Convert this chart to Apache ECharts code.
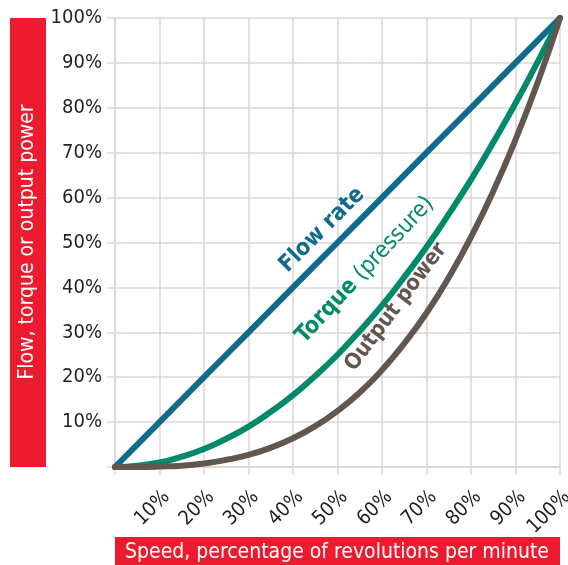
<!DOCTYPE html>
<html>
<head>
<meta charset="utf-8">
<script src="https://cdn.jsdelivr.net/npm/echarts@6/dist/echarts.min.js"></script>
<style>
  html, body { margin: 0; padding: 0; background: #fff; }
  #chart { width: 568px; height: 565px; }
</style>
</head>
<body>
<div id="chart"></div>
<script>
// 转速百分比 (x)，每 5% 读一个点
const speed = [0, 5, 10, 15, 20, 25, 30, 35, 40, 45, 50, 55, 60, 65, 70, 75, 80, 85, 90, 95, 100]
// 三条曲线的读数
const flowRate = [0, 5, 10, 15, 20, 25, 30, 35, 40, 45, 50, 55, 60, 65, 70, 75, 80, 85, 90, 95, 100]
const torque = [0, 0.3, 1, 2.3, 4, 6.3, 9, 12.3, 16, 20.3, 25, 30.3, 36, 42.3, 49, 56.3, 64, 72.3, 81, 90.3, 100]
const outputPower = [0, 0.01, 0.1, 0.3, 0.8, 1.6, 2.7, 4.3, 6.4, 9.1, 12.5, 16.6, 21.6, 27.5, 34.3, 42.2, 51.2, 61.4, 72.9, 85.7, 100]

const FONT = "'Liberation Sans Narrow', 'DejaVu Sans Condensed', 'Roboto', sans-serif"
const RED = '#ed1b2f'
const GRID_COLOR = '#dcd6d2'

const pairs = (ys) => speed.map((x, i) => [x, ys[i]])
const pctLabel = (v) => (v === 0 ? '' : v + '%')

const lineSeries = (name, ys, color, smooth) => ({
  name,
  type: 'line',
  data: pairs(ys),
  smooth,
  symbol: 'none',
  lineStyle: { color, width: 6, cap: 'round', join: 'round' },
  z: 3
})

const options = {
  backgroundColor: '#fff',
  animation: false,
  grid: {
    left: 115,
    right: 8,
    top: 18,
    bottom: 98,
    containLabel: false,
    outerBoundsMode: 'none'
  },
  xAxis: {
    type: 'value',
    min: 0,
    max: 100,
    interval: 10,
    axisLine: { show: true, lineStyle: { color: GRID_COLOR, width: 1.5 } },
    axisTick: { show: true, length: 8, lineStyle: { color: GRID_COLOR, width: 1.5 } },
    splitLine: { show: true, lineStyle: { color: GRID_COLOR, width: 1.5 } },
    axisLabel: {
      rotate: 45,
      margin: 20,
      verticalAlign: 'top',
      color: '#231f20',
      fontSize: 20,
      fontFamily: FONT,
      formatter: pctLabel
    }
  },
  yAxis: {
    type: 'value',
    min: 0,
    max: 100,
    interval: 10,
    axisLine: { show: true, lineStyle: { color: GRID_COLOR, width: 1.5 } },
    axisTick: { show: true, length: 8, lineStyle: { color: GRID_COLOR, width: 1.5 } },
    splitLine: { show: true, lineStyle: { color: GRID_COLOR, width: 1.5 } },
    axisLabel: {
      margin: 13,
      color: '#231f20',
      fontSize: 20,
      fontFamily: FONT,
      formatter: pctLabel
    }
  },
  graphic: [
    // 轴标题 红色底框
    { type: 'rect', left: 10, top: 18, shape: { width: 36, height: 449 }, style: { fill: RED } },
    {
      type: 'text',
      x: 28,
      y: 242,
      rotation: Math.PI / 2,
      style: {
        text: 'Flow, torque or output power',
        fill: '#fff',
        font: '21px ' + FONT,
        align: 'center',
        verticalAlign: 'middle'
      }
    },
    { type: 'rect', left: 115, top: 537, shape: { width: 445, height: 30 }, style: { fill: RED } },
    {
      type: 'text',
      x: 337,
      y: 553,
      style: {
        text: 'Speed, percentage of revolutions per minute',
        fill: '#fff',
        font: '21px ' + FONT,
        align: 'center',
        verticalAlign: 'middle'
      }
    },
    // 曲线标注
    {
      type: 'text',
      x: 322,
      y: 230,
      rotation: Math.PI / 4,
      z: 10,
      style: {
        text: 'Flow rate',
        fill: '#0f6a8c',
        font: 'bold 23px ' + FONT,
        align: 'center',
        verticalAlign: 'middle'
      }
    },
    {
      type: 'text',
      x: 365,
      y: 270,
      rotation: (47 * Math.PI) / 180,
      z: 10,
      style: {
        text: '{b|Torque}  {l|(pressure)}',
        align: 'center',
        verticalAlign: 'middle',
        rich: {
          b: { fill: '#00896b', fontSize: 23, fontWeight: 'bold', fontFamily: FONT },
          l: { fill: '#00896b', fontSize: 23, fontWeight: 'normal', fontFamily: FONT }
        }
      }
    },
    {
      type: 'text',
      x: 396,
      y: 307,
      rotation: (53 * Math.PI) / 180,
      z: 10,
      style: {
        text: 'Output power',
        fill: '#62564f',
        font: 'bold 22px ' + FONT,
        align: 'center',
        verticalAlign: 'middle'
      }
    }
  ],
  series: [
    lineSeries('Flow rate', flowRate, '#0f6a8c', false),
    lineSeries('Torque', torque, '#00896b', true),
    lineSeries('Output power', outputPower, '#62564f', true)
  ]
}

const chart = echarts.init(document.getElementById('chart'))
chart.setOption(options)
window.addEventListener('resize', () => {
  chart.resize()
})
</script>
</body>
</html>
